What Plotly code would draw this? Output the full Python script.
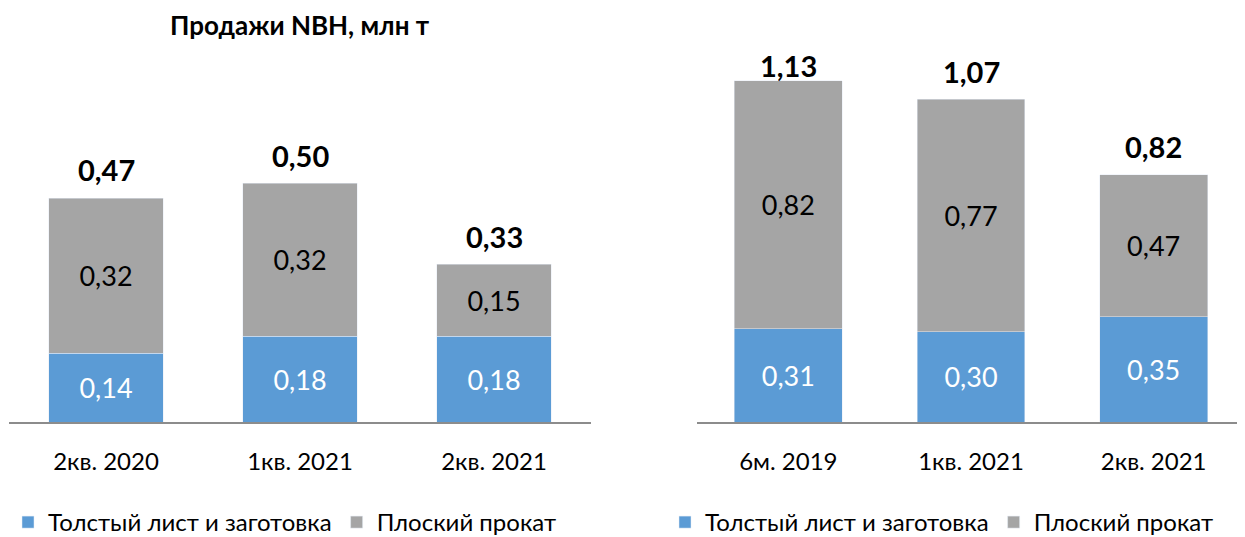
import plotly.graph_objects as go

# left panel: quarterly sales
cats_left = ["2кв. 2020", "1кв. 2021", "2кв. 2021"]
thick_left = [0.144, 0.18, 0.18]
flat_left = [0.324, 0.32, 0.15]
total_left = [0.47, 0.50, 0.33]

# right panel
cats_right = ["6м. 2019", "1кв. 2021", "2кв. 2021"]
thick_right = [0.31, 0.30, 0.35]
flat_right = [0.82, 0.77, 0.47]
total_right = [1.13, 1.07, 0.82]

name_thick = "Толстый лист и заготовка"
name_flat = "Плоский прокат"
title = "Продажи NBH, млн т"

BLUE = "#5B9BD5"
GRAY = "#A5A5A5"
FONT = "Lato"

# page body adds an 8px offset, positions below are shifted to compensate
W, H = 1245, 537
base = 415          # axis baseline, px from top of figure
scale_left = 479    # px per unit
scale_right = 302.6
label_cap = 357     # highest label centre above baseline, px

fig = go.Figure()
annotations = []


def add_panel(cats, thick, flat, total, xa, ya, legend, scale):
    fig.add_trace(go.Bar(
        x=cats, y=thick, name=name_thick, marker_color=BLUE,
        xaxis=xa, yaxis=ya, legend=legend,
        texttemplate="%{y:.2f}", textposition="inside", insidetextanchor="middle",
        textfont=dict(color="white", size=27, family=FONT), textangle=0,
    ))
    fig.add_trace(go.Bar(
        x=cats, y=flat, name=name_flat, marker_color=GRAY,
        xaxis=xa, yaxis=ya, legend=legend,
        texttemplate="%{y:.2f}", textposition="inside", insidetextanchor="middle",
        textfont=dict(color="black", size=27, family=FONT), textangle=0,
    ))
    # totals above the stacks
    for c, t in zip(cats, total):
        shift = min(28, label_cap - t * scale)
        annotations.append(dict(
            x=c, y=t, xref=xa, yref=ya, yshift=shift, showarrow=False,
            text="<b>" + f"{t:.2f}".replace(".", ",") + "</b>",
            xanchor="center", yanchor="middle",
            font=dict(color="black", size=29, family=FONT),
        ))


add_panel(cats_left, thick_left, flat_left, total_left, "x", "y", "legend", scale_left)
add_panel(cats_right, thick_right, flat_right, total_right, "x2", "y2", "legend2", scale_right)

annotations.append(dict(text="<b>" + title + "</b>", x=292 / W, y=1 - 17 / H,
                        xref="paper", yref="paper", showarrow=False,
                        xanchor="center", yanchor="middle",
                        font=dict(size=26, family=FONT)))

ybot = (H - base) / H

xaxis_style = dict(
    showline=True, linecolor="#8C8C8C", linewidth=2,
    ticks="outside", ticklen=17, tickcolor="rgba(0,0,0,0)",
    tickfont=dict(size=24, family=FONT, color="black"),
    showgrid=False, fixedrange=True,
)
yaxis_style = dict(showticklabels=False, showgrid=False, zeroline=False, showline=False)

fig.update_layout(
    width=W, height=H,
    margin=dict(l=0, r=0, t=0, b=0),
    barmode="stack", bargap=0.41,
    separators=", ",
    plot_bgcolor="white", paper_bgcolor="white",
    font=dict(family=FONT, color="black"),
    xaxis=dict(domain=[1 / W, 583 / W], range=[-0.5, 2.5], **xaxis_style),
    xaxis2=dict(domain=[689 / W, 1237 / W], range=[-0.5, 2.5], anchor="y2", **xaxis_style),
    yaxis=dict(domain=[ybot, 1.0], range=[0, base / scale_left], **yaxis_style),
    yaxis2=dict(domain=[ybot, 1.0], range=[0, base / scale_right], anchor="x2", **yaxis_style),
    legend=dict(orientation="h", x=0, y=(H - 515) / H, xanchor="left", yanchor="middle",
                font=dict(size=24, family=FONT), traceorder="normal"),
    legend2=dict(orientation="h", x=657 / W, y=(H - 515) / H, xanchor="left", yanchor="middle",
                 font=dict(size=24, family=FONT), traceorder="normal"),
    annotations=annotations,
)

fig.write_html("out.html")
